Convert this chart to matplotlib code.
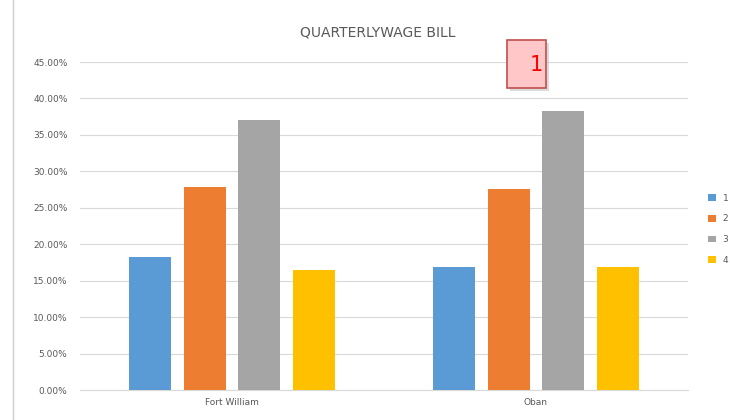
import matplotlib
matplotlib.use("Agg")
import matplotlib.pyplot as plt
from matplotlib.patches import Rectangle
from matplotlib.ticker import FuncFormatter
import numpy as np

# quarterly share of the yearly wage bill, per site
sites = ["Fort William", "Oban"]
quarters = ["1", "2", "3", "4"]
shares = {
    "1": [0.183, 0.169],
    "2": [0.279, 0.276],
    "3": [0.370, 0.383],
    "4": [0.165, 0.169],
}
colors = ["#5b9bd5", "#ed7d31", "#a5a5a5", "#ffc000"]
yticks = np.arange(0, 0.4501, 0.05)

fig = plt.figure(figsize=(7.3, 4.2), dpi=100)
ax = fig.add_axes([80 / 730, 30 / 420, 608 / 730, 328 / 420])

x = np.arange(len(sites))
step, width = 0.18, 0.138
for i, q in enumerate(quarters):
    ax.bar(x + (i - 1.5) * step, shares[q], width=width, color=colors[i], label=q, zorder=3)

ax.set_xlim(-0.5, len(sites) - 0.5)
ax.set_ylim(0, 0.45)
ax.set_yticks(yticks)
ax.yaxis.set_major_formatter(FuncFormatter(lambda v, _: f"{v * 100:.2f}%"))
ax.set_xticks(x)
ax.set_xticklabels(sites)
ax.tick_params(length=0, labelsize=6.5, labelcolor="#595959", pad=9)
ax.tick_params(axis="x", pad=6)
ax.grid(axis="y", color="#d9d9d9", linewidth=0.8, zorder=0)
for side in ["top", "right", "left"]:
    ax.spines[side].set_visible(False)
ax.spines["bottom"].set_color("#d9d9d9")

fig.text(378 / 730, 1 - 33 / 420, "QUARTERLYWAGE BILL", ha="center", va="center",
         fontsize=10, color="#595959")

ax.legend(loc="center left", bbox_to_anchor=(1.02, 0.49), frameon=False, fontsize=6.5,
          handlelength=0.8, handleheight=0.8, labelspacing=1.3, labelcolor="#595959")

# left border of the screenshot
fig.add_artist(plt.Line2D([13 / 730, 13 / 730], [0, 1], color="#d0d0d0", linewidth=1))

# red callout box "1"
fig.add_artist(Rectangle((510 / 730, 1 - 91 / 420), 39 / 730, 48 / 420, facecolor="#bbbbbb",
                         edgecolor="none", alpha=0.5))
fig.add_artist(Rectangle((507 / 730, 1 - 88 / 420), 39 / 730, 48 / 420, facecolor="#ffc7c7",
                         edgecolor="#c0504d", linewidth=1.2))
fig.text(536 / 730, 1 - 65 / 420, "1", ha="center", va="center", fontsize=15, color="#ff0000")

fig.savefig("out.png", dpi=100)
